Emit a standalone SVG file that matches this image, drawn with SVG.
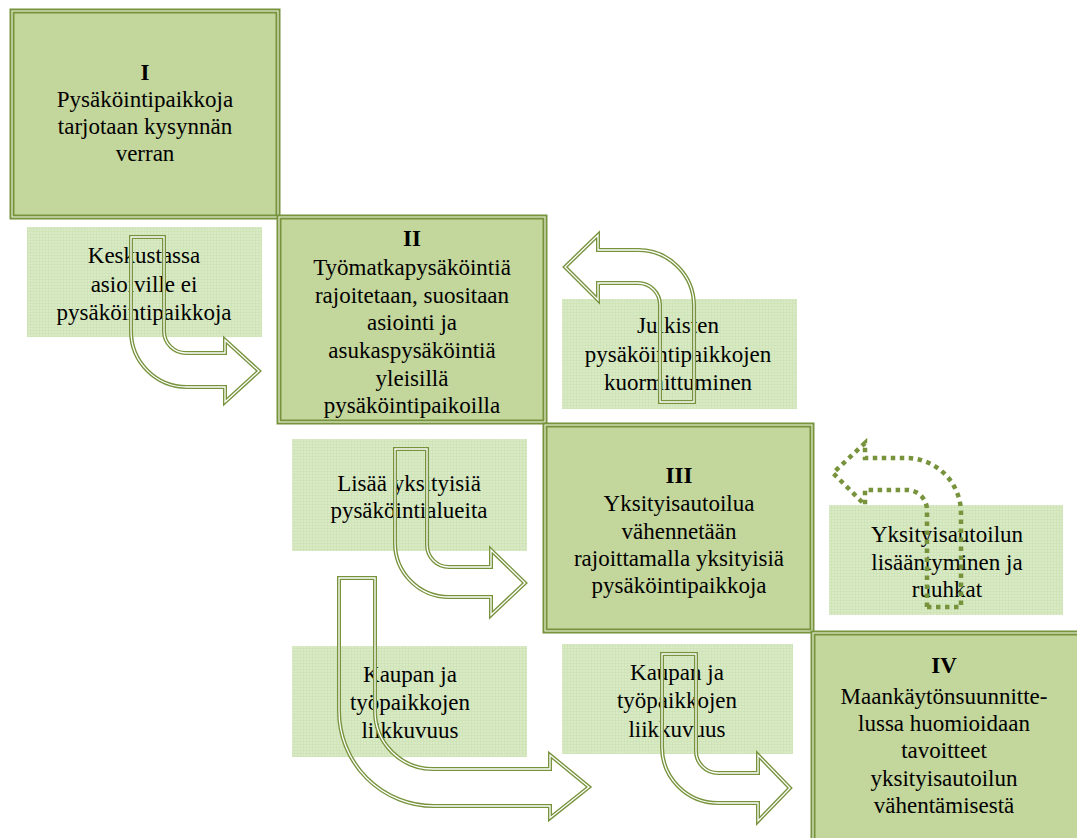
<svg xmlns="http://www.w3.org/2000/svg" width="1077" height="838" viewBox="0 0 1077 838">
<defs>
<pattern id="grid" width="3" height="3" patternUnits="userSpaceOnUse">
<rect width="3" height="3" fill="#d9eac5"/>
<path d="M0,0.5H3M0.5,0V3" stroke="#d0e4ba" stroke-width="1"/>
</pattern>
</defs>
<style>
.box{fill:#c3d69b;stroke:#77933c;stroke-width:5}
.boxin{fill:none;stroke:#e3ecd0;stroke-width:1.2}
.lbox{fill:url(#grid)}
.arr{fill:none;stroke:#77933c;stroke-width:4;stroke-linejoin:miter}
.arrin{fill:none;stroke:#ffffff;stroke-width:1.3}
.dot{fill:none;stroke:#77933c;stroke-width:4.5;stroke-dasharray:4.5 4.5}
text{font-size:23px;fill:#000;text-anchor:middle}
.b{font-weight:bold}
</style>
<rect width="1077" height="838" fill="#ffffff"/>
<g font-family="Liberation Serif, serif">
<g id="box1">
<rect class="box" x="12" y="11" width="266" height="206"/>
<rect class="boxin" x="12" y="11" width="266" height="206"/>
<text x="145" y="80" class="b">I</text>
<text x="145" y="107">Pysäköintipaikkoja</text>
<text x="145" y="134">tarjotaan kysynnän</text>
<text x="145" y="161">verran</text>
</g>

<g id="box2">
<rect class="box" x="279" y="217" width="266" height="205"/>
<rect class="boxin" x="279" y="217" width="266" height="205"/>
<text x="412" y="246" class="b">II</text>
<text x="412" y="275">Työmatkapysäköintiä</text>
<text x="412" y="303">rajoitetaan, suositaan</text>
<text x="412" y="330">asiointi ja</text>
<text x="412" y="358">asukaspysäköintiä</text>
<text x="412" y="386">yleisillä</text>
<text x="412" y="413">pysäköintipaikoilla</text>
</g>

<g id="box3">
<rect class="box" x="545" y="425" width="267" height="206"/>
<rect class="boxin" x="545" y="425" width="267" height="206"/>
<text x="679" y="483" class="b">III</text>
<text x="679" y="511">Yksityisautoilua</text>
<text x="679" y="539">vähennetään</text>
<text x="679" y="566">rajoittamalla yksityisiä</text>
<text x="679" y="593">pysäköintipaikkoja</text>
</g>

<g id="box4">
<rect class="box" x="813" y="633" width="280" height="220"/>
<rect class="boxin" x="813" y="633" width="280" height="220"/>
<text x="944" y="673" class="b">IV</text>
<text x="944" y="704">Maankäytönsuunnitte-</text>
<text x="944" y="731">lussa huomioidaan</text>
<text x="944" y="758">tavoitteet</text>
<text x="944" y="786">yksityisautoilun</text>
<text x="944" y="813">vähentämisestä</text>
</g>

<g id="note1">
<rect class="lbox" x="27" y="227" width="235" height="110"/>
<text x="144" y="263">Keskustassa</text>
<text x="144" y="292">asioiville  ei</text>
<text x="144" y="320">pysäköintipaikkoja</text>
</g>

<g id="note2">
<rect class="lbox" x="562" y="299" width="235" height="110"/>
<text x="678" y="333">Julkisten</text>
<text x="678" y="362">pysäköintipaikkojen</text>
<text x="678" y="390">kuormittuminen</text>
</g>

<g id="note3">
<rect class="lbox" x="292" y="439" width="235" height="112"/>
<text x="409" y="491">Lisää yksityisiä</text>
<text x="409" y="518">pysäköintialueita</text>
</g>

<g id="note4">
<rect class="lbox" x="829" y="505" width="234" height="110"/>
<text x="947" y="542">Yksityisautoilun</text>
<text x="947" y="570">lisääntyminen ja</text>
<text x="947" y="597">ruuhkat</text>
</g>

<g id="note5">
<rect class="lbox" x="292" y="646" width="235" height="111"/>
<text x="410" y="682">Kaupan ja</text>
<text x="410" y="710">työpaikkojen</text>
<text x="410" y="738">liikkuvuus</text>
</g>

<g id="note6">
<rect class="lbox" x="562" y="644" width="231" height="110"/>
<text x="677" y="680">Kaupan ja</text>
<text x="677" y="708">työpaikkojen</text>
<text x="677" y="737">liikkuvuus</text>
</g>
</g>
<g id="connectors">
<path id="a1" class="arr" d="M131,237 H164 V331 A22,22 0 0 0 186,353 H225 V340 L259,371 L225,402 V387 H187 A56,56 0 0 1 131,331 Z"/>
<path class="arrin" d="M131,237 H164 V331 A22,22 0 0 0 186,353 H225 V340 L259,371 L225,402 V387 H187 A56,56 0 0 1 131,331 Z"/>
<path id="a2" class="arr" d="M660,402 H694 V306 A56,56 0 0 0 638,250 H598 V235 L565,267 L598,300 V283 H638 A22,22 0 0 1 660,305 Z"/>
<path class="arrin" d="M660,402 H694 V306 A56,56 0 0 0 638,250 H598 V235 L565,267 L598,300 V283 H638 A22,22 0 0 1 660,305 Z"/>
<path id="a3" class="arr" d="M395,449 H427 V545 A22,22 0 0 0 449,567 H491 V550 L525,583 L491,615 V597 H449 A54,54 0 0 1 395,543 Z"/>
<path class="arrin" d="M395,449 H427 V545 A22,22 0 0 0 449,567 H491 V550 L525,583 L491,615 V597 H449 A54,54 0 0 1 395,543 Z"/>
<path id="a4" class="arr" d="M339,578 H375 V711 A58,58 0 0 0 433,769 H550 V755 L589,787 L550,818 V806 H434 A95,95 0 0 1 339,711 Z"/>
<path class="arrin" d="M339,578 H375 V711 A58,58 0 0 0 433,769 H550 V755 L589,787 L550,818 V806 H434 A95,95 0 0 1 339,711 Z"/>
<path id="a5" class="arr" d="M662,654 H696 V751 A22,22 0 0 0 718,773 H758 V755 L790,788 L758,821 V803 H718 A56,56 0 0 1 662,747 Z"/>
<path class="arrin" d="M662,654 H696 V751 A22,22 0 0 0 718,773 H758 V755 L790,788 L758,821 V803 H718 A56,56 0 0 1 662,747 Z"/>
<path id="a6" class="dot" d="M927,607 H961 V513 A55,55 0 0 0 906,458 H865 V443 L833,473 L865,505 V490 H907 A20,20 0 0 1 927,510 Z"/>
</g>
</svg>
